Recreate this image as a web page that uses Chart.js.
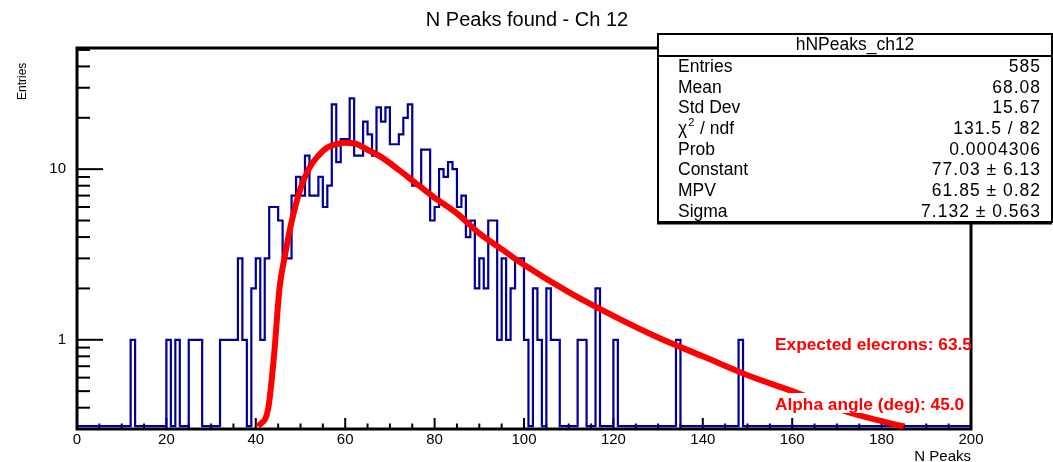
<!DOCTYPE html>
<html>
<head>
<meta charset="utf-8">
<style>
  html, body { margin: 0; padding: 0; background: #fff; }
</style>
<script src="https://cdn.jsdelivr.net/npm/chart.js@4.4.1/dist/chart.umd.min.js"></script>
</head>
<body>
<canvas id="peaksChart" width="1053" height="462"></canvas>
<script>
// hNPeaks_ch12: bin contents, 200 bins of width 1 from 0 to 200
const binCounts = [
  0, 0, 0, 0, 0, 0, 0, 0, 0, 0,   0, 0, 1, 0, 0, 0, 0, 0, 0, 0,
  1, 0, 1, 0, 0, 1, 1, 1, 0, 0,   0, 0, 1, 1, 1, 1, 3, 1, 0, 2,
  3, 1, 3, 6, 6, 5, 3, 3, 7, 9,   7, 12, 7, 7, 9, 6, 8, 24, 11, 15,
  15, 26, 12, 12, 19, 16, 12, 23, 19, 23,   14, 14, 16, 20, 24, 8, 8, 13, 13, 5,
  6, 10, 9, 11, 10, 6, 7, 4, 5, 2,   3, 2, 5, 5, 1, 3, 1, 2, 3, 3,
  1, 0, 2, 1, 0, 2, 1, 1, 0, 0,   0, 0, 1, 1, 0, 0, 2, 0, 0, 0,
  1, 0, 0, 0, 0, 0, 0, 0, 0, 0,   0, 0, 0, 0, 1, 0, 0, 0, 0, 0,
  0, 0, 0, 0, 0, 0, 0, 0, 1, 0,   0, 0, 0, 0, 0, 0, 0, 0, 0, 0,
  0, 0, 0, 0, 0, 0, 0, 0, 0, 0,   0, 0, 0, 0, 0, 0, 0, 0, 0, 0,
  0, 0, 0, 0, 0, 0, 0, 0, 0, 0,   0, 0, 0, 0, 0, 0, 0, 0, 0, 0
];

// Landau fit curve
const fitX = [40.6, 42.8, 44.1, 45.3, 46.5, 48, 50, 52, 54, 56, 58, 60, 62, 65, 68, 72, 76, 80,
              85, 90, 95, 100, 110, 120, 130, 140, 150, 160, 172, 185];
const fitY = [0.31, 0.40, 0.82, 2.0, 3.1, 4.9, 7.7, 10.2, 12.0, 13.4, 14.0, 14.3, 14.2, 13.0, 11.8, 9.9, 8.2, 6.8,
              5.5, 4.2, 3.4, 2.75, 1.9, 1.38, 1.03, 0.8, 0.62, 0.5, 0.38, 0.31];

const xTickLabels = [0, 20, 40, 60, 80, 100, 120, 140, 160, 180, 200];
const yTickLabels = [1, 10];

const statsTitle = 'hNPeaks_ch12';
const statNames = ['Entries', 'Mean', 'Std Dev', 'chi2', 'Prob', 'Constant', 'MPV', 'Sigma'];
const statValues = ['585', '68.08', '15.67', '131.5 / 82', '0.0004306', '77.03 \u00b1 6.13', '61.85 \u00b1 0.82', '7.132 \u00b1 0.563'];
const fitNotes = ['Expected elecrons: 63.5', 'Alpha angle (deg): 45.0'];

const Y_MIN = 0.312;
const Y_MAX = 51.3;
const FONT = '"Liberation Sans", Arial, Helvetica, sans-serif';

// zero bins sit on the axis floor, like ROOT draws them
const histPoints = binCounts.map((c, i) => ({x: i, y: c > 0 ? c : Y_MIN}));
histPoints.push({x: binCounts.length, y: histPoints[histPoints.length - 1].y});
const fitPoints = fitX.map((x, i) => ({x: x, y: fitY[i]}));

const line = (ctx, x1, y1, x2, y2) => {
  ctx.beginPath();
  ctx.moveTo(x1, y1);
  ctx.lineTo(x2, y2);
  ctx.stroke();
};

const rootFrame = {
  id: 'rootFrame',
  beforeDatasetsDraw(chart) {
    const {ctx, chartArea: a, scales: {x, y}} = chart;
    ctx.save();
    ctx.strokeStyle = '#000';
    ctx.lineWidth = 3;
    ctx.strokeRect(a.left, a.top, a.right - a.left, a.bottom - a.top);

    ctx.lineWidth = 2;
    // x ticks, pointing into the frame
    for (let v = 0; v <= 200; v += 5) {
      const px = x.getPixelForValue(v);
      line(ctx, px, a.bottom, px, a.bottom - (v % 20 === 0 ? 11 : 5.5));
    }
    // y ticks
    [0.1, 1, 10].forEach(d => {
      for (let m = 1; m <= 9; m++) {
        const v = d * m;
        if (v < Y_MIN || v > Y_MAX) continue;
        const py = y.getPixelForValue(v);
        line(ctx, a.left, py, a.left + (m === 1 ? 26 : 13), py);
      }
    });
    ctx.restore();
  },
  afterDraw(chart) {
    const {ctx, chartArea: a, scales: {x, y}} = chart;
    ctx.save();
    ctx.fillStyle = '#000';

    // title
    ctx.font = '20px ' + FONT;
    ctx.textAlign = 'center';
    ctx.textBaseline = 'middle';
    ctx.fillText('N Peaks found - Ch 12', 527, 20);

    // tick labels
    ctx.font = '15px ' + FONT;
    ctx.textBaseline = 'top';
    xTickLabels.forEach(v => ctx.fillText(String(v), x.getPixelForValue(v), a.bottom + 3));
    ctx.textAlign = 'right';
    ctx.textBaseline = 'middle';
    yTickLabels.forEach(v => ctx.fillText(String(v), 66, y.getPixelForValue(v)));

    // axis titles
    ctx.font = '15px ' + FONT;
    ctx.textAlign = 'right';
    ctx.textBaseline = 'alphabetic';
    ctx.fillText('N Peaks', a.right, 461);
    ctx.font = '12px ' + FONT;
    ctx.save();
    ctx.translate(26, 100);
    ctx.rotate(-Math.PI / 2);
    ctx.textAlign = 'left';
    ctx.fillText('Entries', 0, 0);
    ctx.restore();

    // fit notes with white boxes
    ctx.font = 'bold 17.3px ' + FONT;
    ctx.textAlign = 'left';
    ctx.textBaseline = 'middle';
    [345, 405].forEach((cy, i) => {
      ctx.fillStyle = '#fff';
      ctx.fillRect(772, cy - 12, 196, 20);
      ctx.fillStyle = '#ff0000';
      ctx.fillText(fitNotes[i], 775, cy);
    });

    // stats box
    const bl = 658, bt = 34, br = 1052, bb = 222;
    ctx.fillStyle = '#fff';
    ctx.fillRect(bl, bt, br - bl, bb - bt);
    ctx.strokeStyle = '#000';
    ctx.lineWidth = 2;
    ctx.strokeRect(bl, bt, br - bl, bb - bt);
    ctx.lineWidth = 3;
    line(ctx, bl - 1, bb + 1, br, bb + 1);
    ctx.lineWidth = 2;
    line(ctx, bl, 56, br, 56);

    ctx.fillStyle = '#000';
    ctx.font = '17.5px ' + FONT;
    ctx.textAlign = 'center';
    ctx.textBaseline = 'middle';
    ctx.fillText(statsTitle, 855, 45);
    statNames.forEach((name, i) => {
      const cy = 67 + i * 20.7;
      ctx.textAlign = 'left';
      ctx.letterSpacing = '0px';
      if (name === 'chi2') {
        ctx.font = '17.5px ' + FONT;
        ctx.fillText('\u03c7', 678, cy);
        const w = ctx.measureText('\u03c7').width;
        ctx.font = '11px ' + FONT;
        ctx.fillText('2', 678 + w + 1, cy - 6);
        ctx.font = '17.5px ' + FONT;
        ctx.fillText(' / ndf', 678 + w + 8, cy);
      } else {
        ctx.fillText(name, 678, cy);
      }
      ctx.textAlign = 'right';
      ctx.letterSpacing = '1px';
      ctx.fillText(statValues[i], 1041, cy);
    });
    ctx.restore();
  }
};

new Chart(document.getElementById('peaksChart'), {
  type: 'line',
  data: {
    datasets: [{
      label: 'Landau fit',
      data: fitPoints,
      borderColor: '#ff0000',
      borderWidth: 6,
      pointRadius: 0,
      fill: false,
      cubicInterpolationMode: 'monotone',
      clip: 0,
      order: 1
    }, {
      label: 'hNPeaks_ch12',
      data: histPoints,
      borderColor: '#000099',
      borderWidth: 2.2,
      pointRadius: 0,
      fill: false,
      stepped: 'before',
      order: 2
    }]
  },
  options: {
    responsive: false,
    animation: false,
    devicePixelRatio: 1,
    layout: { padding: { left: 77, right: 82, top: 48, bottom: 33 } },
    scales: {
      x: { type: 'linear', min: 0, max: 200, display: false },
      y: { type: 'logarithmic', min: Y_MIN, max: Y_MAX, display: false }
    },
    plugins: {
      legend: { display: false },
      tooltip: { enabled: false },
      title: { display: false }
    }
  },
  plugins: [rootFrame]
});
</script>
</body>
</html>
